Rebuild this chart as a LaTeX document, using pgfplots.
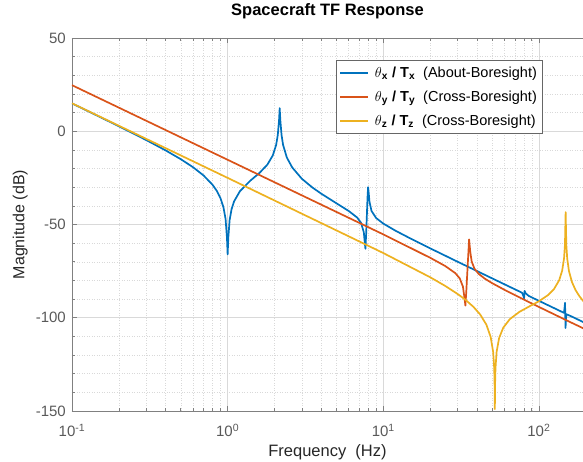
\documentclass[border=0pt]{standalone}
\usepackage{pgfplots}
\pgfplotsset{compat=1.18}
\usepackage{fontspec}
\setmainfont{Liberation Sans}
\definecolor{mblue}{rgb}{0,0.447,0.741}
\definecolor{morange}{rgb}{0.85,0.325,0.098}
\definecolor{myellow}{rgb}{0.929,0.694,0.125}
\begin{document}
\begin{tikzpicture}
\useasboundingbox (-72pt,-51pt) rectangle (511pt,411pt);
\begin{axis}[
  at={(0pt,0pt)}, anchor=south west,
  scale only axis, width=511pt, height=373pt,
  xmode=log, xmin=0.1, xmax=192, ymin=-150, ymax=50,
  axis x line*=box, axis y line*=left,
  axis line style={black!50, line width=0.6pt},
  tick align=inside,
  major tick length=5pt, minor tick length=3pt,
  tick style={black!50, line width=0.6pt},
  xtick={0.1,1,10,100},
  xticklabels={10\textsuperscript{-1},10\textsuperscript{0},10\textsuperscript{1},10\textsuperscript{2}},
  minor xtick={0.2,0.3,0.4,0.5,0.6,0.7,0.8,0.9,2,3,4,5,6,7,8,9,20,30,40,50,60,70,80,90},
  ytick={-150,-100,-50,0,50},
  yticklabels={-150,-100,-50,0,50},
  minor y tick num=4,
  grid=both,
  major grid style={black!15, line width=0.5pt},
  minor grid style={black!15, line width=0.5pt, dotted},
  ticklabel style={font=\fontsize{15}{18}\selectfont, text=black!65},
  xticklabel style={anchor=base, yshift=-26pt, inner sep=0pt},
  yticklabel style={anchor=east, xshift=-6pt, inner sep=0pt},
  title={Spacecraft TF Response},
  title style={font=\bfseries\fontsize{16.5}{20}\selectfont, at={(axis description cs:0.5,1)}, anchor=base, yshift=16pt},
  xlabel={Frequency\ \ (Hz)},
  xlabel style={font=\fontsize{16.5}{20}\selectfont, text=black!85, at={(axis description cs:0.5,0)}, anchor=base, yshift=-46pt},
  ylabel={Magnitude (dB)},
  ylabel style={font=\fontsize{16}{20}\selectfont, text=black!85, at={(axis description cs:-0.093,0.5)}, anchor=base},
  legend style={at={(axis description cs:0.5166,0.941)}, anchor=north west, draw=black!60, fill=white, font=\fontsize{14.5}{17}\selectfont, inner xsep=3pt, inner ysep=4.5pt, row sep=8pt, column sep=4pt},
  legend cell align=left,
  legend image code/.code={\draw[#1] (0pt,0pt) -- (28pt,0pt);},
  legend image post style={line width=1.8pt},
]
\addplot[mblue, line width=1.7pt, line join=round] coordinates {
(0.1,14.93) (0.15,7.80) (0.2,2.68) (0.3,-4.73) (0.4,-10.29) (0.5,-14.98) (0.6,-19.31) (0.7,-23.69) (0.8,-28.71) (0.85,-31.85) (0.9,-35.93) (0.94,-40.79) (0.97,-47.08) (0.99,-57) (1.0,-66) (1.01,-57) (1.03,-47.58) (1.06,-41.78) (1.1,-37.61) (1.2,-32.10) (1.4,-26.47) (1.6,-22.39) (1.8,-17.91) (1.95,-12.99) (2.05,-7.29) (2.1,-2.01) (2.14,6) (2.16,12.4) (2.18,6) (2.22,-1.99) (2.27,-7.25) (2.4,-14.07) (2.6,-19.43) (3,-25.50) (3.5,-30.13) (4,-33.51) (5,-38.62) (6,-42.77) (6.8,-46.30) (7.2,-49.09) (7.5,-54.21) (7.6,-59.4) (7.68,-63) (7.76,-55.3) (7.84,-45.77) (7.92,-35.7) (7.99,-30) (8.06,-33) (8.15,-37.72) (8.4,-42.71) (9,-46.54) (10,-49.51) (12,-53.36) (15,-57.57) (20,-62.77) (30,-69.95) (50,-78.86) (70,-84.73) (78,-86.61) (79.5,-88.3) (80.3,-89.6) (80.9,-85.6) (82,-86.8) (86,-88.3) (100,-90.93) (130,-95.49) (145,-97.4) (147.2,-92) (148.2,-105.5) (150,-98.1) (160,-99.09) (192,-102.26) (200,-102.97)
};
\addlegendentry{$\theta$\textsubscript{\textbf{x}} \textbf{/ T\textsubscript{x}}\ \ (About-Boresight)}
\addplot[morange, line width=1.7pt, line join=round] coordinates {
(0.1,24.7) (1,-15.3) (10,-55.3) (20,-67.82) (25,-72.26) (29,-76.06) (31,-78.89) (32.5,-83.32) (33.2,-89) (33.7,-93.5) (34.2,-85) (34.6,-77.07) (35.1,-67.45) (35.6,-58) (36.2,-64.54) (37,-69.86) (38.5,-73.62) (41,-76.46) (45,-79.09) (50,-81.43) (60,-85.00) (80,-90.25) (100,-94.21) (150,-101.33) (200,-106.3)
};
\addlegendentry{$\theta$\textsubscript{\textbf{y}} \textbf{/ T\textsubscript{y}}\ \ (Cross-Boresight)}
\addplot[myellow, line width=1.7pt, line join=round] coordinates {
(0.1,15) (1,-25) (10,-65.3) (20,-78.27) (25,-82.94) (30,-87.22) (33.7,-90.35) (38,-94.19) (42,-98.33) (46,-103.76) (49,-110.36) (50.8,-118.30) (51.6,-126.76) (51.9,-135) (52.1,-149) (52.3,-135) (52.6,-126.97) (53.5,-118.2) (55.5,-110.88) (59,-105.33) (65,-100.76) (75,-96.83) (85,-94.32) (100,-91.17) (115,-87.72) (125,-84.63) (135,-79.86) (141,-74.82) (145,-68.25) (147,-60.9) (148.5,-43.4) (150,-60.94) (152,-68.32) (156,-75.01) (163,-80.84) (172,-85.18) (182,-88.42) (192,-90.9) (200,-92.49)
};
\addlegendentry{$\theta$\textsubscript{\textbf{z}} \textbf{/ T\textsubscript{z}}\ \ (Cross-Boresight)}
\end{axis}
\end{tikzpicture}
\end{document}
